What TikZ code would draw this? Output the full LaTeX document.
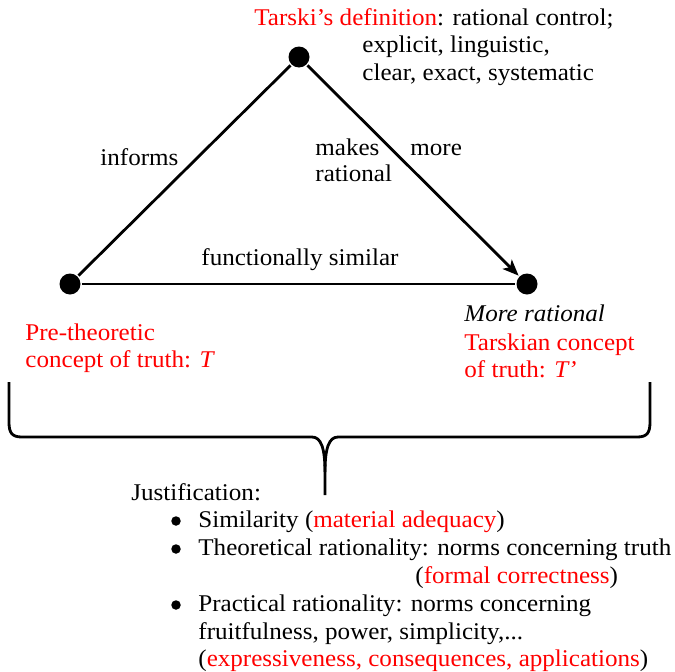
\documentclass[tikz,border=0pt]{standalone}
\usepackage{fontspec}
\setmainfont[FakeStretch=1.045]{Liberation Serif}
\usepackage{xcolor}
\usetikzlibrary{arrows.meta}
\definecolor{tred}{RGB}{255,0,0}
\tikzset{dot/.style={fill=black, inner sep=0pt, minimum size=21pt, circle},
  bul/.style={fill=black, inner sep=0pt, minimum size=9.5pt, circle},
  txt/.style={anchor=base west, inner sep=0pt, font=\fontsize{24}{28}\selectfont}}

\begin{document}
\begin{tikzpicture}[x=1pt, y=-1pt, line width=2.8pt]
      \useasboundingbox (0,0) rectangle (675,672);
      \node [dot] (top) at (299,57) {};
      \node [dot] (pre) at (70,284) {};
      \node [dot] (tar) at (527,284) {};
      \draw (top) -- (pre);
      \draw [-{Stealth[length=16pt, width=13pt, inset=4pt]}] (top) -- (tar);
      \draw (pre) -- (tar);
      \node [txt] (def) at (253,25) {\textcolor{tred}{Tarski’s definition}: rational control;};
      \node [txt] (expl) at (361,52) {explicit, linguistic,};
      \node [txt] (clear) at (361,80) {clear, exact, systematic};
      \node [txt] (informs) at (99,165) {informs};
      \node [txt] (makes) at (314,155) {makes};
      \node [txt] (ratl) at (314,181) {rational};
      \node [txt] (more) at (409,155) {more};
      \node [txt] (simil) at (200,265) {functionally similar};
      \node [txt, tred] (pre1) at (24,340) {Pre-theoretic};
      \node [txt, tred] (pre2) at (24,367) {concept of truth: \textit{T}};
      \node [txt] (tar1) at (463,321) {\textit{More rational}};
      \node [txt, tred] (tar2) at (463,350) {Tarskian concept};
      \node [txt, tred] (tar3) at (463,377) {of truth: \textit{T’}};
      % the brace
      \draw (9,382) -- (9,422) .. controls (9,433) and (12,437) .. (22,437) -- (312,437)
        .. controls (321,437) and (325,448) .. (325,472) -- (325,495);
      \draw (650,382) -- (650,422) .. controls (650,433) and (647,437) .. (637,437) -- (338,437)
        .. controls (329,437) and (325,448) .. (325,472);
      \node [txt] (just) at (130,500) {Justification:};
      \node [bul] (b1) at (176,521) {};
      \node [bul] (b2) at (176,549) {};
      \node [bul] (b3) at (176,605) {};
      \node [txt] (j1) at (197,527) {Similarity (\textcolor{tred}{material adequacy})};
      \node [txt] (j2) at (197,555) {Theoretical rationality: norms concerning truth};
      \node [txt] (j2b) at (414,583) {(\textcolor{tred}{formal correctness})};
      \node [txt] (j3) at (197,611) {Practical rationality: norms concerning};
      \node [txt] (j3b) at (197,639) {fruitfulness, power, simplicity,...};
      \node [txt] (j3c) at (197,666) {(\textcolor{tred}{expressiveness, consequences, applications})};
    \end{tikzpicture}
\end{document}
